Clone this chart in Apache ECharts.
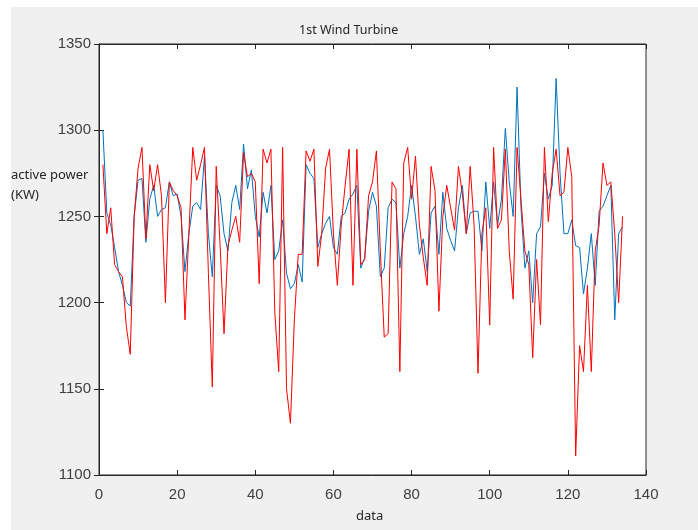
<!DOCTYPE html>
<html>
<head>
<meta charset="utf-8">
<script src="https://cdn.jsdelivr.net/npm/echarts@6/dist/echarts.min.js"></script>
<style>
html,body{margin:0;padding:0;background:#ffffff;}
#bg{position:absolute;left:11px;top:7px;width:687px;height:523px;background:#f0f0f0;}
#chart{position:absolute;left:0;top:0;width:698px;height:530px;}
</style>
</head>
<body>
<div id="bg"></div>
<div id="chart"></div>
<script>
// Measured turbine power (blue) and second series (red), index 1..134
const bluePower = [
1300,1252,1245,1232,1218,1210,1200,1198,1250,1271,
1272,1235,1260,1268,1250,1254,1255,1270,1262,1263,
1250,1218,1240,1256,1258,1254,1285,1240,1215,1268,
1262,1240,1230,1258,1268,1254,1292,1266,1277,1250,
1238,1264,1252,1268,1225,1230,1248,1217,1208,1211,
1222,1212,1280,1275,1272,1232,1240,1246,1250,1232,
1228,1250,1252,1260,1263,1268,1220,1226,1253,1264,
1256,1215,1220,1255,1260,1258,1220,1240,1250,1268,
1250,1228,1237,1218,1252,1256,1228,1264,1243,1236,
1230,1255,1268,1240,1252,1253,1253,1230,1270,1243,
1270,1245,1260,1301,1270,1250,1325,1255,1220,1230,
1200,1240,1244,1275,1260,1268,1330,1275,1240,1240,
1248,1233,1232,1205,1220,1240,1210,1253,1256,1262,
1268,1190,1240,1244
];
const redPower = [
1280,1240,1255,1222,1218,1215,1186,1170,1250,1278,
1290,1237,1280,1265,1280,1262,1200,1270,1265,1262,
1255,1190,1240,1290,1271,1280,1290,1217,1151,1279,
1233,1182,1233,1242,1250,1235,1287,1273,1275,1270,
1211,1289,1281,1289,1194,1160,1290,1150,1130,1190,
1228,1228,1288,1282,1289,1221,1240,1278,1289,1240,
1210,1245,1268,1289,1210,1289,1222,1225,1262,1270,
1288,1230,1180,1182,1270,1266,1160,1281,1290,1260,
1285,1245,1226,1210,1279,1265,1195,1250,1268,1255,
1242,1279,1263,1240,1279,1245,1159,1240,1255,1187,
1290,1243,1248,1289,1230,1202,1290,1260,1230,1222,
1168,1225,1187,1290,1247,1275,1289,1262,1264,1290,
1273,1111,1175,1160,1210,1160,1230,1245,1281,1268,
1270,1240,1200,1250
];
const xTicks = [0,20,40,60,80,100,120,140];
const yTicks = [1100,1150,1200,1250,1300,1350];

const toPairs = arr => arr.map((v,i) => [i+1, v]);

const chart = echarts.init(document.getElementById('chart'), null, {renderer:'canvas'});
const axisCol = '#262626';
const lblCol = '#404040';
const labelFont = {color: lblCol, fontSize: 15, fontFamily: "'Liberation Sans', Arial, sans-serif", formatter: v => String(v)};

chart.setOption({
  backgroundColor: 'transparent',
  animation: false,
  grid: {left: 99, top: 44, right: 52, bottom: 55, show: true, backgroundColor: '#ffffff', borderColor: axisCol, borderWidth: 1},
  xAxis: [{
    type: 'value', min: xTicks[0], max: xTicks[xTicks.length-1], interval: 20,
    axisLine: {show: true, lineStyle: {color: axisCol, width: 1}},
    axisTick: {show: true, inside: true, length: 5, lineStyle: {color: axisCol}},
    axisLabel: Object.assign({margin: 12}, labelFont),
    splitLine: {show: false}
  },{
    type: 'value', position: 'top', min: xTicks[0], max: xTicks[xTicks.length-1], interval: 20,
    axisLine: {show: true, lineStyle: {color: axisCol, width: 1}},
    axisTick: {show: true, inside: true, length: 5, lineStyle: {color: axisCol}},
    axisLabel: {show: false}, splitLine: {show: false}
  }],
  yAxis: [{
    type: 'value', min: yTicks[0], max: yTicks[yTicks.length-1], interval: 50,
    axisLine: {show: true, lineStyle: {color: axisCol, width: 1}},
    axisTick: {show: true, inside: true, length: 5, lineStyle: {color: axisCol}},
    axisLabel: Object.assign({margin: 8}, labelFont),
    splitLine: {show: false}
  },{
    type: 'value', position: 'right', min: yTicks[0], max: yTicks[yTicks.length-1], interval: 50,
    axisLine: {show: true, lineStyle: {color: axisCol, width: 1}},
    axisTick: {show: true, inside: true, length: 5, lineStyle: {color: axisCol}},
    axisLabel: {show: false}, splitLine: {show: false}
  }],
  series: [{
    name: 'blue', type: 'line', data: toPairs(bluePower), showSymbol: false, symbol: 'none',
    lineStyle: {color: '#0072BD', width: 1}, z: 2
  },{
    name: 'red', type: 'line', data: toPairs(redPower), showSymbol: false, symbol: 'none',
    lineStyle: {color: '#FF0000', width: 1}, z: 3
  }],
  graphic: [
    {type: 'text', left: 299, top: 24, style: {text: '1st Wind Turbine', fill: '#262626', font: '12.5px "Noto Sans", sans-serif'}},
    {type: 'text', left: 11, top: 165, style: {text: 'active power\n(KW)', fill: '#262626', font: '13px "Noto Sans", sans-serif', lineHeight: 20}},
    {type: 'text', left: 356, top: 510, style: {text: 'data', fill: '#262626', font: '13px "Noto Sans", sans-serif'}}
  ]
});
</script>
</body>
</html>
